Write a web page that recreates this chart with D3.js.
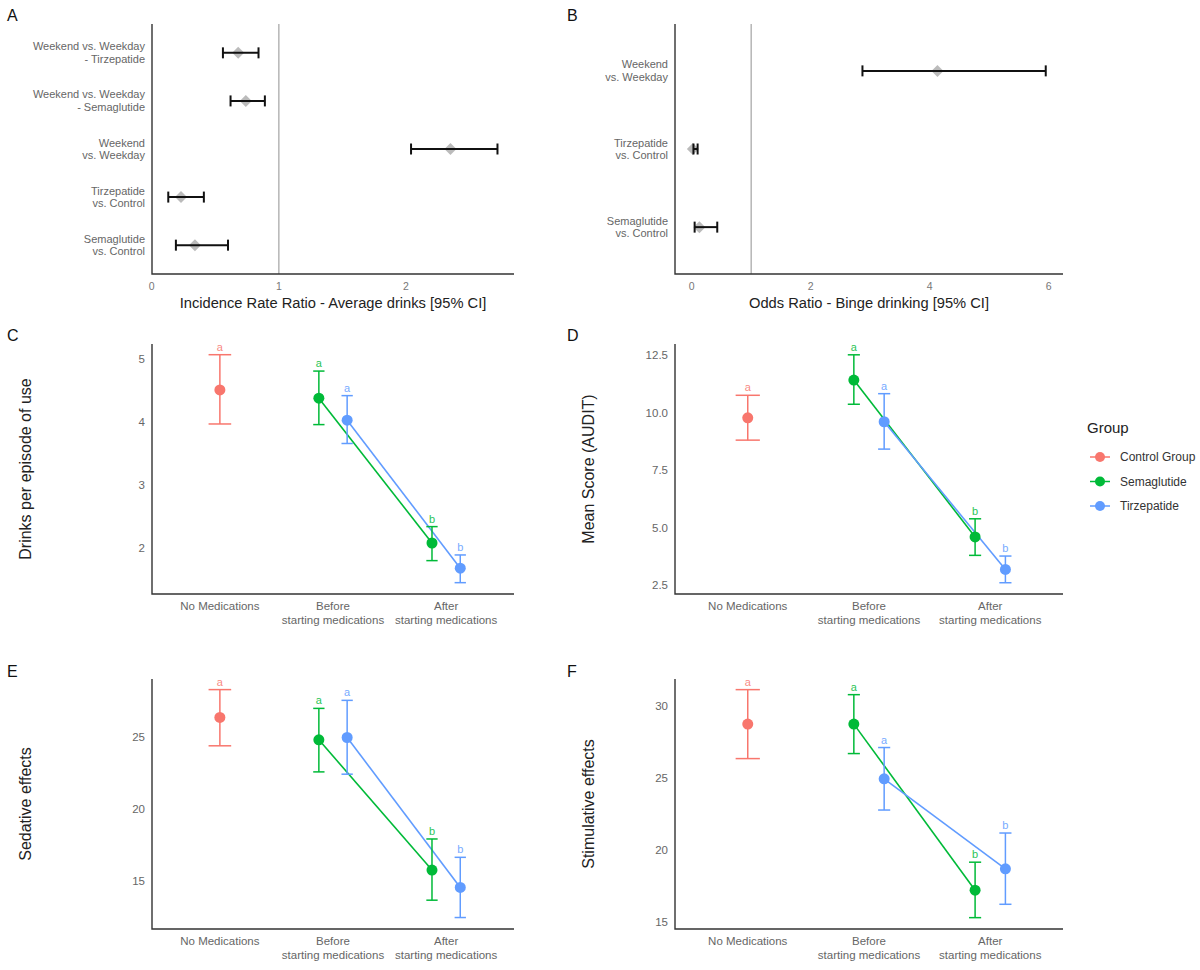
<!DOCTYPE html>
<html>
<head>
<meta charset="utf-8">
<script src="https://cdn.jsdelivr.net/npm/d3@7"></script>
<style>
  body { margin: 0; background: #fff; }
  svg { font-family: "Liberation Sans", Arial, sans-serif; }
</style>
</head>
<body>
<svg id="fig" width="1200" height="970"></svg>
<script>
// ---- data ----
// panel A: incidence rate ratios (top to bottom)
const irrLabels = ["Weekend vs. Weekday\n- Tirzepatide", "Weekend vs. Weekday\n- Semaglutide", "Weekend\nvs. Weekday", "Tirzepatide\nvs. Control", "Semaglutide\nvs. Control"];
const irrEst = [0.68, 0.74, 2.35, 0.23, 0.34];
const irrLow = [0.56, 0.62, 2.04, 0.13, 0.19];
const irrHigh = [0.84, 0.89, 2.72, 0.41, 0.60];

// panel B: odds ratios
const orLabels = ["Weekend\nvs. Weekday", "Tirzepatide\nvs. Control", "Semaglutide\nvs. Control"];
const orEst = [4.13, 0.02, 0.13];
const orLow = [2.87, 0.03, 0.05];
const orHigh = [5.95, 0.10, 0.43];

const timepoints = ["No Medications", "Before\nstarting medications", "After\nstarting medications"];
const groups = ["Control Group", "Semaglutide", "Tirzepatide"];
const groupColors = ["#F8766D", "#00BA38", "#619CFF"];

// rows: [group, timepoint index, mean, lower, upper, letter]
const drinksRows = [
  ["Control Group", 0, 4.51, 3.97, 5.07, "a"],
  ["Semaglutide", 1, 4.38, 3.96, 4.81, "a"],
  ["Tirzepatide", 1, 4.03, 3.66, 4.42, "a"],
  ["Semaglutide", 2, 2.08, 1.80, 2.34, "b"],
  ["Tirzepatide", 2, 1.68, 1.45, 1.89, "b"]
];
const auditRows = [
  ["Control Group", 0, 9.77, 8.80, 10.75, "a"],
  ["Semaglutide", 1, 11.41, 10.36, 12.51, "a"],
  ["Tirzepatide", 1, 9.60, 8.41, 10.82, "a"],
  ["Semaglutide", 2, 4.59, 3.79, 5.38, "b"],
  ["Tirzepatide", 2, 3.18, 2.60, 3.76, "b"]
];
const sedativeRows = [
  ["Control Group", 0, 26.40, 24.42, 28.34, "a"],
  ["Semaglutide", 1, 24.84, 22.60, 27.03, "a"],
  ["Tirzepatide", 1, 25.00, 22.44, 27.59, "a"],
  ["Semaglutide", 2, 15.75, 13.65, 17.92, "b"],
  ["Tirzepatide", 2, 14.54, 12.44, 16.64, "b"]
];
const stimulativeRows = [
  ["Control Group", 0, 28.77, 26.37, 31.17, "a"],
  ["Semaglutide", 1, 28.77, 26.72, 30.82, "a"],
  ["Tirzepatide", 1, 24.96, 22.79, 27.14, "a"],
  ["Semaglutide", 2, 17.21, 15.30, 19.16, "b"],
  ["Tirzepatide", 2, 18.70, 16.23, 21.19, "b"]
];

const svg = d3.select("#fig");
const color = d3.scaleOrdinal().domain(groups).range(groupColors);

// left / right column plot areas
const colL = [152, 514], colR = [675, 1063];

function panelLetter(txt, x, y) {
  svg.append("text").attr("x", x).attr("y", y)
    .attr("font-size", 16).attr("fill", "#111").text(txt);
}

function axisLines(g, x0, x1, y0, y1) {
  g.append("path")
    .attr("d", `M${x0},${y0}V${y1}H${x1}`)
    .attr("fill", "none").attr("stroke", "#333").attr("stroke-width", 1.4);
}

function multiLine(sel, txt, lh) {
  const lines = txt.split("\n");
  lines.forEach((l, i) => {
    sel.append("tspan").attr("x", sel.attr("x")).attr("dy", i === 0 ? 0 : lh).text(l);
  });
}

function forest(labels, est, low, high, xr, yr, domain, ticks, title) {
  const g = svg.append("g");
  const x = d3.scaleLinear().domain(domain).range(xr);
  const y = d3.scalePoint().domain(labels).range(yr).padding(0.6);

  // reference line at 1
  g.append("line").attr("x1", x(1)).attr("x2", x(1))
    .attr("y1", yr[0]).attr("y2", yr[1])
    .attr("stroke", "#aaa").attr("stroke-width", 1.3);

  const rows = labels.map((l, i) => ({ l, e: est[i], lo: low[i], hi: high[i] }));

  // grey diamonds (under the bars)
  g.selectAll(".dia").data(rows).join("path")
    .attr("d", "M0,-6L6,0L0,6L-6,0Z")
    .attr("transform", d => `translate(${x(d.e)},${y(d.l)})`)
    .attr("fill", "#aaa").attr("opacity", 0.8);

  const bars = g.selectAll(".bar").data(rows).join("g")
    .attr("stroke", "#111").attr("stroke-width", 2).attr("fill", "none");
  bars.append("line").attr("x1", d => x(d.lo)).attr("x2", d => x(d.hi))
    .attr("y1", d => y(d.l)).attr("y2", d => y(d.l));
  bars.append("line").attr("x1", d => x(d.lo)).attr("x2", d => x(d.lo))
    .attr("y1", d => y(d.l) - 5.5).attr("y2", d => y(d.l) + 5.5);
  bars.append("line").attr("x1", d => x(d.hi)).attr("x2", d => x(d.hi))
    .attr("y1", d => y(d.l) - 5.5).attr("y2", d => y(d.l) + 5.5);

  axisLines(g, xr[0], xr[1], yr[0], yr[1]);

  // y labels
  labels.forEach(l => {
    const t = g.append("text").attr("x", xr[0] - 7).attr("y", y(l) - 2.5)
      .attr("text-anchor", "end").attr("font-size", 11).attr("fill", "#666");
    multiLine(t, l, 12.5);
  });
  // x ticks
  g.selectAll(".xt").data(ticks).join("text")
    .attr("x", d => x(d)).attr("y", yr[1] + 16)
    .attr("text-anchor", "middle").attr("font-size", 10.5).attr("fill", "#777")
    .text(d => d);
  g.append("text").attr("x", (xr[0] + xr[1]) / 2).attr("y", yr[1] + 34)
    .attr("text-anchor", "middle").attr("font-size", 14.7).attr("fill", "#222")
    .text(title);
}

function groupPlot(rows, xr, yr, domain, ticks, fmt, title, titleX) {
  const g = svg.append("g");
  const x = d3.scalePoint().domain(timepoints).range(xr).padding(0.6);
  const y = d3.scaleLinear().domain(domain).range([yr[1], yr[0]]);
  const step = x.step();
  const dodge = { "Control Group": 0, "Semaglutide": -0.125, "Tirzepatide": 0.125 };
  const data = rows.map(r => ({
    g: r[0], t: timepoints[r[1]], m: r[2], lo: r[3], hi: r[4], lab: r[5],
    cap: r[0] === "Control Group" ? 0.1 : 0.05
  }));
  const px = d => x(d.t) + dodge[d.g] * step;

  // connecting lines per drug group
  ["Semaglutide", "Tirzepatide"].forEach(gr => {
    const pts = data.filter(d => d.g === gr);
    g.append("path").datum(pts)
      .attr("d", d3.line().x(px).y(d => y(d.m)))
      .attr("fill", "none").attr("stroke", color(gr)).attr("stroke-width", 1.6);
  });

  const eb = g.selectAll(".eb").data(data).join("g")
    .attr("stroke", d => color(d.g)).attr("stroke-width", 1.5);
  eb.append("line").attr("x1", px).attr("x2", px)
    .attr("y1", d => y(d.lo)).attr("y2", d => y(d.hi));
  eb.append("line").attr("x1", d => px(d) - d.cap * step).attr("x2", d => px(d) + d.cap * step)
    .attr("y1", d => y(d.lo)).attr("y2", d => y(d.lo));
  eb.append("line").attr("x1", d => px(d) - d.cap * step).attr("x2", d => px(d) + d.cap * step)
    .attr("y1", d => y(d.hi)).attr("y2", d => y(d.hi));

  g.selectAll(".pt").data(data).join("circle")
    .attr("cx", px).attr("cy", d => y(d.m)).attr("r", 5.5)
    .attr("fill", d => color(d.g));

  g.selectAll(".lab").data(data).join("text")
    .attr("x", px).attr("y", d => y(d.hi) - 4)
    .attr("text-anchor", "middle").attr("font-size", 11)
    .attr("fill", d => color(d.g)).attr("opacity", 0.85)
    .text(d => d.lab);

  axisLines(g, xr[0], xr[1], yr[0], yr[1]);

  g.selectAll(".yt").data(ticks).join("text")
    .attr("x", xr[0] - 7).attr("y", d => y(d) + 4)
    .attr("text-anchor", "end").attr("font-size", 11.5).attr("fill", "#666")
    .text(d => fmt(d));

  timepoints.forEach(t => {
    const tx = g.append("text").attr("x", x(t)).attr("y", yr[1] + 16)
      .attr("text-anchor", "middle").attr("font-size", 11.5).attr("fill", "#666");
    multiLine(tx, t, 14);
  });

  g.append("text")
    .attr("transform", `translate(${titleX},${(yr[0] + yr[1]) / 2}) rotate(-90)`)
    .attr("text-anchor", "middle").attr("dy", "0.35em")
    .attr("font-size", 16).attr("fill", "#222").text(title);
}

// ---- panels ----
panelLetter("A", 7, 21);
forest(irrLabels, irrEst, irrLow, irrHigh, colL, [24, 274], [0.002, 2.85], [0, 1, 2],
  "Incidence Rate Ratio - Average drinks [95% CI]");

panelLetter("B", 567, 21);
forest(orLabels, orEst, orLow, orHigh, colR, [24, 274], [-0.28, 6.24], [0, 2, 4, 6],
  "Odds Ratio - Binge drinking [95% CI]");

panelLetter("C", 7, 341);
groupPlot(drinksRows, colL, [344, 594], [1.27, 5.24], [2, 3, 4, 5], d3.format("d"),
  "Drinks per episode of use", 25);

panelLetter("D", 567, 341);
groupPlot(auditRows, colR, [344, 594], [2.11, 12.98], [2.5, 5, 7.5, 10, 12.5], d3.format(".1f"),
  "Mean Score (AUDIT)", 588);

panelLetter("E", 7, 677);
groupPlot(sedativeRows, colL, [679, 929], [11.64, 29.08], [15, 20, 25], d3.format("d"),
  "Sedative effects", 25);

panelLetter("F", 567, 677);
groupPlot(stimulativeRows, colR, [679, 929], [14.51, 31.91], [15, 20, 25, 30], d3.format("d"),
  "Stimulative effects", 588);

// ---- legend ----
const leg = svg.append("g");
leg.append("text").attr("x", 1087).attr("y", 433).attr("font-size", 15).attr("fill", "#222").text("Group");
const item = leg.selectAll(".it").data(groups).join("g")
  .attr("transform", (d, i) => `translate(0,${457 + i * 24.5})`);
item.append("line").attr("x1", 1090).attr("x2", 1110)
  .attr("stroke", d => color(d)).attr("stroke-width", 1.5);
item.append("circle").attr("cx", 1100).attr("r", 5).attr("fill", d => color(d));
item.append("text").attr("x", 1120).attr("dy", "0.35em")
  .attr("font-size", 12).attr("fill", "#333").text(d => d);
</script>
</body>
</html>
